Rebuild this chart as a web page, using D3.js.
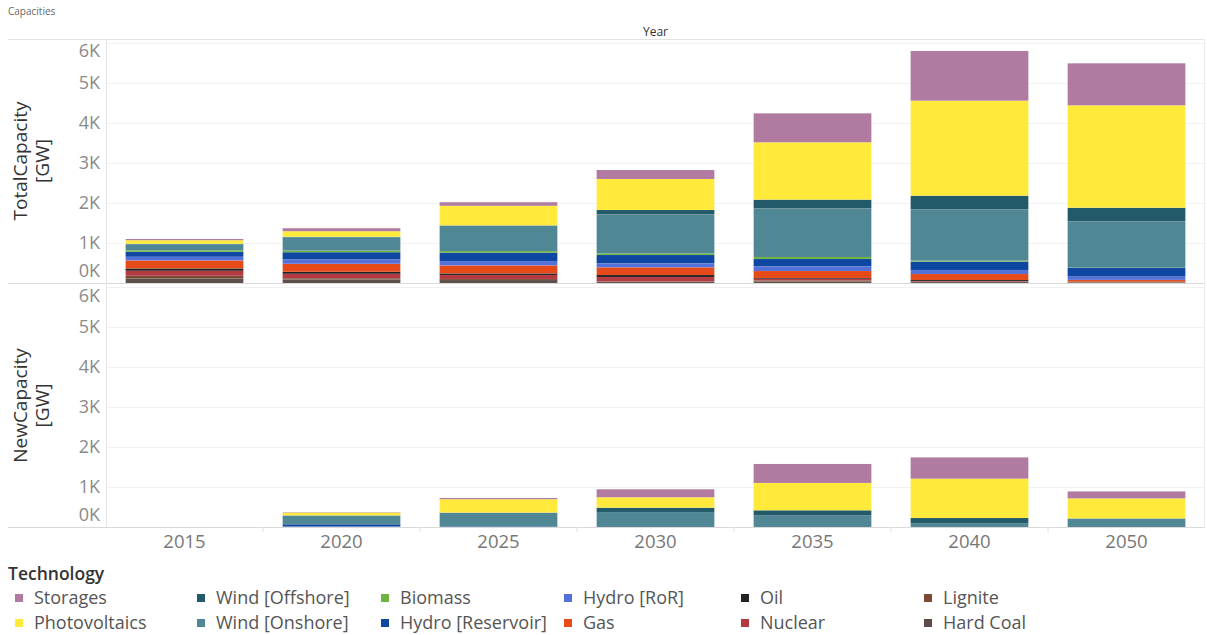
<!DOCTYPE html>
<html>
<head>
<meta charset="utf-8">
<script src="https://cdn.jsdelivr.net/npm/d3@7"></script>
<style>
  html, body { margin: 0; padding: 0; background: #fff; }
  svg { display: block; font-family: "Open Sans", "Noto Sans", sans-serif; }
</style>
</head>
<body>
<svg id="chart" width="1207" height="635"></svg>
<script>
// ---------- DATA ----------
const years = ["2015", "2020", "2025", "2030", "2035", "2040", "2050"];
// legend / stacking order (top of stack first)
const technologies = ["Storages", "Photovoltaics", "Wind [Offshore]", "Wind [Onshore]", "Biomass",
  "Hydro [Reservoir]", "Hydro [RoR]", "Gas", "Oil", "Nuclear", "Lignite", "Hard Coal"];
const techColors = ["#b07aa1", "#ffea3b", "#225a69", "#4f8795", "#6db33f",
  "#0d47a1", "#5470d9", "#e64a19", "#222222", "#b23a40", "#7b4a35", "#5d4e49"];

// TotalCapacity [GW] per technology, by year
const totalStorages      = [30, 75, 90, 225, 725, 1242, 1050];
const totalPhotovoltaics = [90, 140, 490, 775, 1433, 2375, 2560];
const totalWindOffshore  = [10, 10, 10, 108, 217, 340, 342];
const totalWindOnshore   = [150, 335, 630, 975, 1217, 1285, 1158];
const totalBiomass       = [40, 40, 40, 42, 50, 25, 5];
const totalHydroRes      = [125, 175, 210, 208, 183, 208, 217];
const totalHydroRoR      = [90, 115, 110, 100, 117, 100, 83];
const totalGas           = [200, 200, 200, 192, 175, 150, 42];
const totalOil           = [60, 50, 40, 50, 20, 25, 15];
const totalNuclear       = [125, 110, 100, 108, 40, 15, 10];
const totalLignite       = [65, 30, 25, 12, 30, 10, 0];
const totalHardCoal      = [115, 90, 75, 30, 35, 25, 10];

// NewCapacity [GW] per technology, by year
const newStorages      = [0, 10, 30, 200, 475, 533, 175];
const newPhotovoltaics = [0, 70, 335, 260, 683, 983, 500];
const newWindOffshore  = [0, 5, 5, 108, 133, 125, 5];
const newWindOnshore   = [0, 210, 340, 375, 285, 100, 210];
const newBiomass       = [0, 5, 0, 0, 0, 0, 0];
const newHydroRes      = [0, 55, 15, 0, 0, 0, 0];
const newHydroRoR      = [0, 15, 0, 0, 0, 0, 0];
const newGas           = [0, 0, 0, 0, 0, 0, 0];
const newOil           = [0, 0, 0, 0, 0, 0, 0];
const newNuclear       = [0, 0, 0, 0, 0, 0, 0];
const newLignite       = [0, 0, 0, 0, 0, 0, 0];
const newHardCoal      = [0, 0, 0, 0, 0, 0, 0];

const yTicks = [0, 1000, 2000, 3000, 4000, 5000, 6000];

// ---------- BUILD TABLES ----------
const totalSeries = [totalStorages, totalPhotovoltaics, totalWindOffshore, totalWindOnshore, totalBiomass,
  totalHydroRes, totalHydroRoR, totalGas, totalOil, totalNuclear, totalLignite, totalHardCoal];
const newSeries = [newStorages, newPhotovoltaics, newWindOffshore, newWindOnshore, newBiomass,
  newHydroRes, newHydroRoR, newGas, newOil, newNuclear, newLignite, newHardCoal];

function toRows(series) {
  return years.map((y, i) => {
    const r = { year: y };
    technologies.forEach((t, k) => r[t] = series[k][i]);
    return r;
  });
}

const color = d3.scaleOrdinal().domain(technologies).range(techColors);
const stackKeys = technologies.slice().reverse(); // bottom first
const stack = d3.stack().keys(stackKeys);

// ---------- LAYOUT ----------
const svg = d3.select("#chart");
const plotLeft = 106, plotRight = 1205, outerLeft = 8;
const x = d3.scaleBand().domain(years).range([plotLeft, plotRight]).paddingInner(0.25).paddingOuter(0.125);

const panes = [
  { title: ["TotalCapacity", "[GW]"], top: 39, bottom: 283, rows: toRows(totalSeries) },
  { title: ["NewCapacity", "[GW]"], top: 284, bottom: 527, rows: toRows(newSeries) }
];

// title + header
svg.append("text").attr("x", 8).attr("y", 15).attr("font-size", 10).attr("fill", "#666").text("Capacities");
svg.append("text").attr("x", (plotLeft + plotRight) / 2).attr("y", 36).attr("text-anchor", "middle")
  .attr("font-size", 12).attr("fill", "#333").text("Year");
svg.append("line").attr("x1", outerLeft).attr("x2", plotRight).attr("y1", 39.5).attr("y2", 39.5)
  .attr("stroke", "#e3e3e3");

panes.forEach(p => {
  const y = d3.scaleLinear().domain([0, (p.bottom - p.top) * 25]).range([p.bottom, p.top]);
  const g = svg.append("g");

  // gridlines
  g.selectAll("line.grid").data(yTicks.filter(t => t > 0 && y(t) > p.top + 2)).enter().append("line")
    .attr("x1", plotLeft).attr("x2", plotRight)
    .attr("y1", d => Math.round(y(d)) + 0.5).attr("y2", d => Math.round(y(d)) + 0.5)
    .attr("stroke", "#f1f1f1");

  // bars
  const layers = stack(p.rows);
  g.selectAll("g.layer").data(layers).enter().append("g")
    .attr("fill", d => color(d.key))
    .selectAll("rect").data(d => d).enter().append("rect")
    .attr("x", d => x(d.data.year))
    .attr("width", x.bandwidth())
    .attr("y", d => y(d[1]))
    .attr("height", d => Math.max(0, y(d[0]) - y(d[1])))
    .attr("stroke", "#ffffff").attr("stroke-opacity", 0.1).attr("stroke-width", 0.5);

  // tick labels, clamped into the pane like the original
  g.selectAll("text.tick").data(yTicks).enter().append("text")
    .attr("x", plotLeft - 6)
    .attr("y", d => Math.max(p.top + 12, Math.min(p.bottom - 12, y(d))))
    .attr("dy", "0.35em").attr("text-anchor", "end")
    .attr("font-size", 18).attr("fill", "#8a8a8a")
    .text(d => d3.format("d")(d / 1000) + "K");

  // axis title
  const cy = (p.top + p.bottom) / 2;
  const t = g.append("text").attr("transform", `translate(31,${cy}) rotate(-90)`)
    .attr("text-anchor", "middle").attr("font-size", 19).attr("fill", "#333");
  t.append("tspan").attr("x", 0).attr("dy", "-0.22em").text(p.title[0]);
  t.append("tspan").attr("x", 0).attr("dy", "1.18em").text(p.title[1]);

  // bottom line of pane
  g.append("line").attr("x1", outerLeft).attr("x2", plotRight)
    .attr("y1", p.bottom + 0.5).attr("y2", p.bottom + 0.5).attr("stroke", "#d9d9d9");
});

// vertical borders
svg.append("line").attr("x1", plotLeft + 0.5).attr("x2", plotLeft + 0.5).attr("y1", 39).attr("y2", 527)
  .attr("stroke", "#e6e6e6");
svg.append("line").attr("x1", plotRight - 0.5).attr("x2", plotRight - 0.5).attr("y1", 39).attr("y2", 527)
  .attr("stroke", "#ececec");

// x axis
const xAxisG = svg.append("g");
const step = x.step();
xAxisG.selectAll("line").data(years.slice(1)).enter().append("line")
  .attr("x1", d => x(d) - step * 0.125).attr("x2", d => x(d) - step * 0.125)
  .attr("y1", 527).attr("y2", 532).attr("stroke", "#e0e0e0");
xAxisG.selectAll("text").data(years).enter().append("text")
  .attr("x", d => x(d) + x.bandwidth() / 2).attr("y", 542).attr("dy", "0.35em")
  .attr("text-anchor", "middle").attr("font-size", 18.5).attr("fill", "#777").text(d => d);

// legend
svg.append("text").attr("x", 8).attr("y", 580).attr("font-size", 17.5).attr("font-weight", 600)
  .attr("fill", "#333").text("Technology");
const colX = [15, 197, 381, 564, 741, 924];
const rowY = [598, 623];
const lg = svg.append("g").selectAll("g").data(technologies).enter().append("g")
  .attr("transform", (d, i) => `translate(${colX[Math.floor(i / 2)]},${rowY[i % 2]})`);
lg.append("rect").attr("x", 0).attr("y", -4).attr("width", 8).attr("height", 8).attr("fill", d => color(d));
lg.append("text").attr("x", 19).attr("y", 0).attr("dy", "0.35em").attr("font-size", 18)
  .attr("fill", "#555").text(d => d);
</script>
</body>
</html>
